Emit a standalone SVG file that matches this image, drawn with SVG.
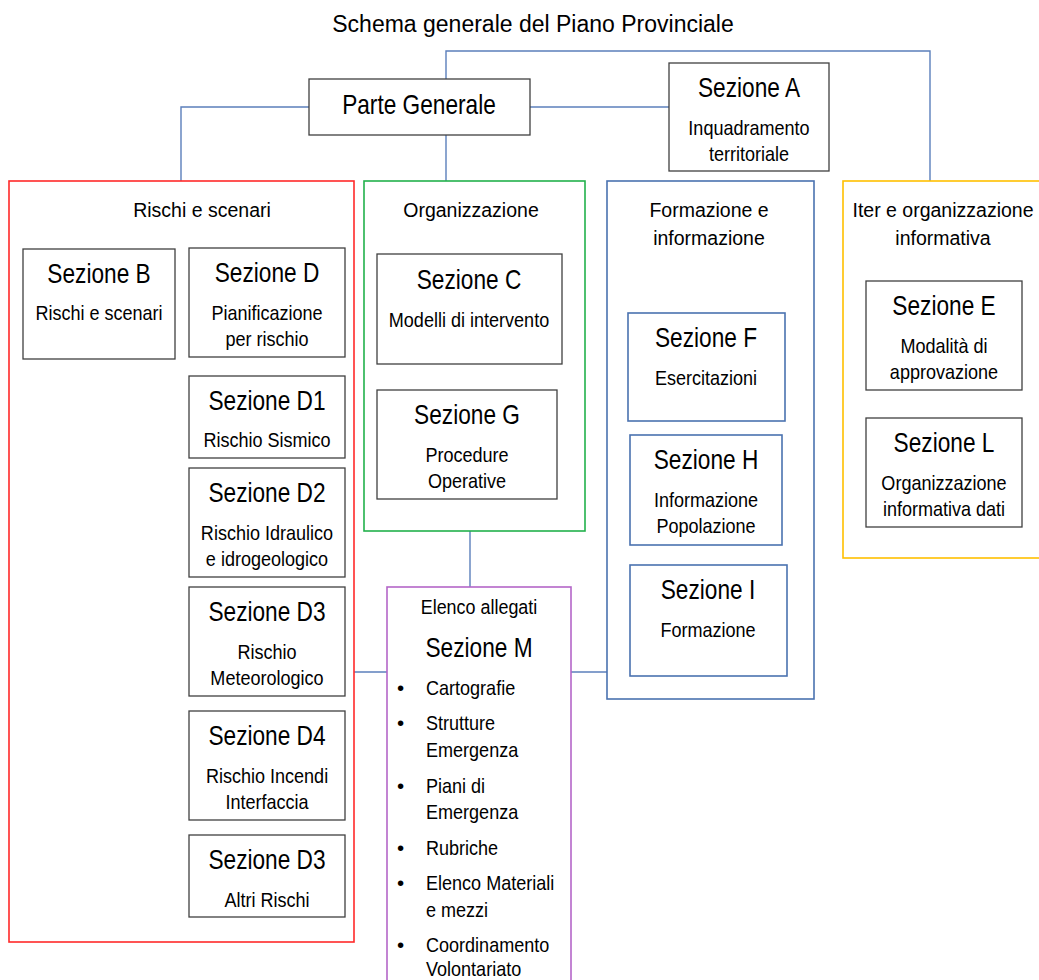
<svg xmlns="http://www.w3.org/2000/svg" width="1039" height="980" viewBox="0 0 1039 980">
<style>
text{font-family:"Liberation Sans",Arial,sans-serif;fill:#000;text-anchor:middle}
.h{font-size:27px}
.s{font-size:20.5px}
.g{font-size:19.5px}
.t{font-size:23px}
.l{text-anchor:start}
.box{fill:#fff;stroke:#404040;stroke-width:1.3}
.bb{fill:#fff;stroke:#4a72b0;stroke-width:1.6}
.conn{fill:none;stroke:#5b7fbb;stroke-width:1.4}
</style>
<rect width="1039" height="980" fill="#fff"/>
<text class="t" x="533" y="32">Schema generale del Piano Provinciale</text>
<g id="connectors">
<polyline class="conn" points="309,107 181,107 181,181"/>
<line class="conn" x1="530" y1="107" x2="669" y2="107"/>
<line class="conn" x1="446" y1="135" x2="446" y2="181"/>
<polyline class="conn" points="446,79 446,51 930,51 930,181"/>
<line class="conn" x1="470" y1="531" x2="470" y2="587"/>
<line class="conn" x1="354" y1="672" x2="387" y2="672"/>
<line class="conn" x1="571" y1="672" x2="607" y2="672"/>
</g>
<g id="parte-generale">
<rect class="box" x="309" y="79" width="221" height="56"/>
<text class="h" transform="translate(419,114) scale(0.84,1)">Parte Generale</text>
</g>
<g id="sezione-a">
<rect class="box" x="669" y="63" width="160" height="108"/>
<text class="h" transform="translate(749,97) scale(0.84,1)">Sezione A</text>
<text class="s" transform="translate(749,135) scale(0.88,1)">Inquadramento</text>
<text class="s" transform="translate(749,161) scale(0.88,1)">territoriale</text>
</g>
<g id="rischi-scenari">
<rect x="9" y="181" width="345" height="761" fill="none" stroke="#ff2a2a" stroke-width="1.6"/>
<text class="g" x="202" y="217">Rischi e scenari</text>
</g>
<g id="sezione-b">
<rect class="box" x="23" y="249" width="152" height="110"/>
<text class="h" transform="translate(99,283) scale(0.84,1)">Sezione B</text>
<text class="s" transform="translate(99,320) scale(0.88,1)">Rischi e scenari</text>
</g>
<g id="sezione-d">
<rect class="box" x="189" y="248" width="156" height="109"/>
<text class="h" transform="translate(267,282) scale(0.84,1)">Sezione D</text>
<text class="s" transform="translate(267,320) scale(0.88,1)">Pianificazione</text>
<text class="s" transform="translate(267,346) scale(0.88,1)">per rischio</text>
</g>
<g id="sezione-d1">
<rect class="box" x="189" y="376" width="156" height="82"/>
<text class="h" transform="translate(267,410) scale(0.84,1)">Sezione D1</text>
<text class="s" transform="translate(267,447) scale(0.88,1)">Rischio Sismico</text>
</g>
<g id="sezione-d2">
<rect class="box" x="189" y="468" width="156" height="109"/>
<text class="h" transform="translate(267,502) scale(0.84,1)">Sezione D2</text>
<text class="s" transform="translate(267,540) scale(0.88,1)">Rischio Idraulico</text>
<text class="s" transform="translate(267,566) scale(0.88,1)">e idrogeologico</text>
</g>
<g id="sezione-d3">
<rect class="box" x="189" y="587" width="156" height="109"/>
<text class="h" transform="translate(267,621) scale(0.84,1)">Sezione D3</text>
<text class="s" transform="translate(267,659) scale(0.88,1)">Rischio</text>
<text class="s" transform="translate(267,685) scale(0.88,1)">Meteorologico</text>
</g>
<g id="sezione-d4">
<rect class="box" x="189" y="711" width="156" height="109"/>
<text class="h" transform="translate(267,745) scale(0.84,1)">Sezione D4</text>
<text class="s" transform="translate(267,783) scale(0.88,1)">Rischio Incendi</text>
<text class="s" transform="translate(267,809) scale(0.88,1)">Interfaccia</text>
</g>
<g id="sezione-d3-altri">
<rect class="box" x="189" y="835" width="156" height="82"/>
<text class="h" transform="translate(267,869) scale(0.84,1)">Sezione D3</text>
<text class="s" transform="translate(267,907) scale(0.88,1)">Altri Rischi</text>
</g>
<g id="organizzazione">
<rect x="364" y="181" width="221" height="350" fill="none" stroke="#22b14c" stroke-width="1.6"/>
<text class="g" x="471" y="217">Organizzazione</text>
</g>
<g id="sezione-c">
<rect class="box" x="377" y="254" width="185" height="110"/>
<text class="h" transform="translate(469,289) scale(0.84,1)">Sezione C</text>
<text class="s" transform="translate(469,327) scale(0.88,1)">Modelli di intervento</text>
</g>
<g id="sezione-g">
<rect class="box" x="377" y="390" width="180" height="109"/>
<text class="h" transform="translate(467,424) scale(0.84,1)">Sezione G</text>
<text class="s" transform="translate(467,462) scale(0.88,1)">Procedure</text>
<text class="s" transform="translate(467,488) scale(0.88,1)">Operative</text>
</g>
<g id="sezione-m">
<rect x="387" y="587" width="184" height="400" fill="#fff" stroke="#b466c8" stroke-width="1.6"/>
<text class="g" transform="translate(479,614) scale(0.92,1)">Elenco allegati</text>
<text class="h" transform="translate(479,657) scale(0.84,1)">Sezione M</text>
<text class="s l" x="397" y="695">•</text>
<text class="s l" transform="translate(426,695) scale(0.88,1)">Cartografie</text>
<text class="s l" x="397" y="730">•</text>
<text class="s l" transform="translate(426,730) scale(0.88,1)">Strutture</text>
<text class="s l" transform="translate(426,757) scale(0.88,1)">Emergenza</text>
<text class="s l" x="397" y="793">•</text>
<text class="s l" transform="translate(426,793) scale(0.88,1)">Piani di</text>
<text class="s l" transform="translate(426,819) scale(0.88,1)">Emergenza</text>
<text class="s l" x="397" y="855">•</text>
<text class="s l" transform="translate(426,855) scale(0.88,1)">Rubriche</text>
<text class="s l" x="397" y="890">•</text>
<text class="s l" transform="translate(426,890) scale(0.88,1)">Elenco Materiali</text>
<text class="s l" transform="translate(426,917) scale(0.88,1)">e mezzi</text>
<text class="s l" x="397" y="952">•</text>
<text class="s l" transform="translate(426,952) scale(0.88,1)">Coordinamento</text>
<text class="s l" transform="translate(426,976) scale(0.88,1)">Volontariato</text>
</g>
<g id="formazione-informazione">
<rect x="607" y="181" width="207" height="518" fill="none" stroke="#4a72b0" stroke-width="1.6"/>
<text class="g" x="709" y="217">Formazione e</text>
<text class="g" x="709" y="245">informazione</text>
</g>
<g id="sezione-f">
<rect class="bb" x="628" y="313" width="157" height="108"/>
<text class="h" transform="translate(706,347) scale(0.84,1)">Sezione F</text>
<text class="s" transform="translate(706,385) scale(0.88,1)">Esercitazioni</text>
</g>
<g id="sezione-h">
<rect class="bb" x="630" y="435" width="152" height="110"/>
<text class="h" transform="translate(706,469) scale(0.84,1)">Sezione H</text>
<text class="s" transform="translate(706,507) scale(0.88,1)">Informazione</text>
<text class="s" transform="translate(706,533) scale(0.88,1)">Popolazione</text>
</g>
<g id="sezione-i">
<rect class="bb" x="630" y="565" width="157" height="111"/>
<text class="h" transform="translate(708,599) scale(0.84,1)">Sezione I</text>
<text class="s" transform="translate(708,637) scale(0.88,1)">Formazione</text>
</g>
<g id="iter-organizzazione">
<rect x="843" y="181" width="210" height="377" fill="none" stroke="#ffc000" stroke-width="1.6"/>
<text class="g" x="943" y="217">Iter e organizzazione</text>
<text class="g" x="943" y="245">informativa</text>
</g>
<g id="sezione-e">
<rect class="box" x="866" y="281" width="156" height="109"/>
<text class="h" transform="translate(944,315) scale(0.84,1)">Sezione E</text>
<text class="s" transform="translate(944,353) scale(0.88,1)">Modalità di</text>
<text class="s" transform="translate(944,379) scale(0.88,1)">approvazione</text>
</g>
<g id="sezione-l">
<rect class="box" x="866" y="418" width="156" height="109"/>
<text class="h" transform="translate(944,452) scale(0.84,1)">Sezione L</text>
<text class="s" transform="translate(944,490) scale(0.88,1)">Organizzazione</text>
<text class="s" transform="translate(944,516) scale(0.88,1)">informativa dati</text>
</g>
</svg>
